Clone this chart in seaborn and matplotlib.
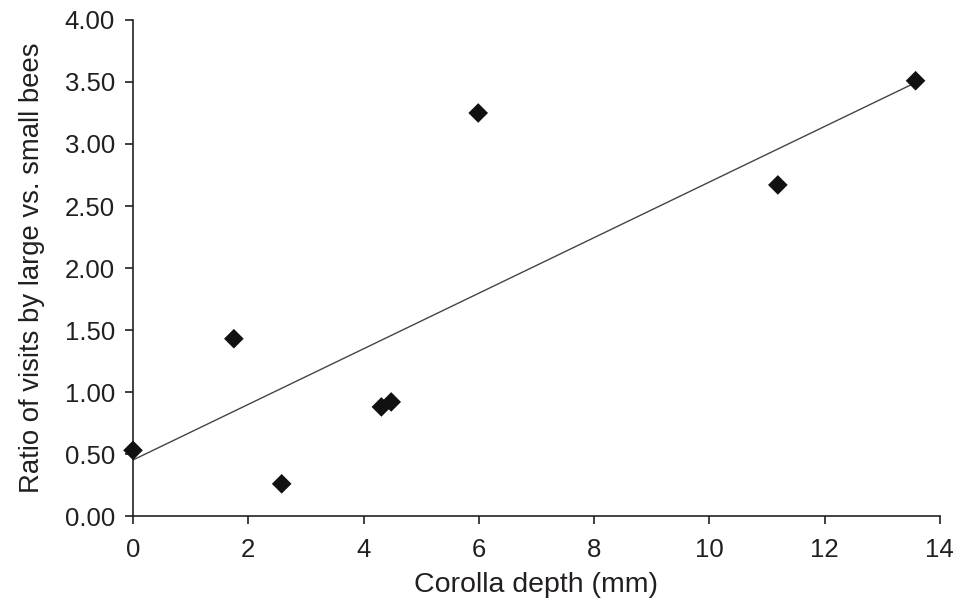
import matplotlib
matplotlib.use("Agg")
import pandas as pd
import seaborn as sns
from matplotlib import pyplot as plt

# values
corolla_depth = [0.0, 1.75, 2.58, 4.31, 4.48, 5.99, 11.19, 13.58]
visit_ratio = [0.53, 1.43, 0.26, 0.88, 0.92, 3.25, 2.67, 3.51]
x_ticks = [0, 2, 4, 6, 8, 10, 12, 14]
y_ticks = [0.0, 0.5, 1.0, 1.5, 2.0, 2.5, 3.0, 3.5, 4.0]

df = pd.DataFrame({"depth": corolla_depth, "ratio": visit_ratio})

sns.set_style("ticks")
plt.rcParams["font.family"] = ["Liberation Sans", "DejaVu Sans"]
text_col = "#231f20"

fig = plt.figure(figsize=(9.57, 6.05), dpi=100)
ax = fig.add_axes([0.139, 0.147, 0.843, 0.820])

sns.regplot(
    data=df,
    x="depth",
    y="ratio",
    ci=None,
    marker="D",
    scatter_kws={"s": 100, "color": "#111111", "alpha": 1, "edgecolor": "none",
                 "zorder": 3, "clip_on": False},
    line_kws={"color": "#444444", "linewidth": 1.0},
    ax=ax,
)

ax.set_xlim(0, 14)
ax.set_ylim(0, 4)
ax.set_xticks(x_ticks)
ax.set_yticks(y_ticks)
ax.set_yticklabels([f"{v:.2f}" for v in y_ticks])
ax.set_xlabel("Corolla depth (mm)", fontsize=20.5, color=text_col, labelpad=7)
ax.set_ylabel("Ratio of visits by large vs. small bees", fontsize=19.8, color=text_col, labelpad=14)
ax.tick_params(axis="both", labelsize=18.5, colors=text_col, length=6, width=1.2, pad=7)
ax.tick_params(axis="x", pad=10)
for side in ("top", "right"):
    ax.spines[side].set_visible(False)
for side in ("left", "bottom"):
    ax.spines[side].set_color("#222222")
    ax.spines[side].set_linewidth(1.2)
ax.spines["bottom"].set_bounds(0, 14)
ax.spines["left"].set_bounds(0, 4)

fig.savefig("out.png", dpi=100)
